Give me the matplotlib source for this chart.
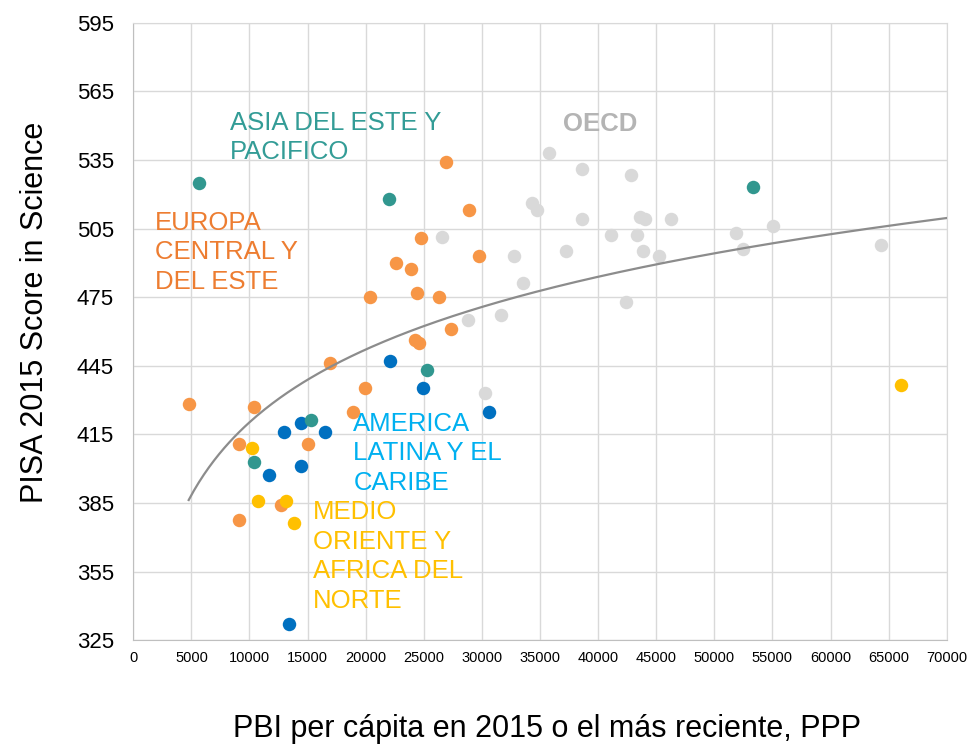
import matplotlib as mpl
import matplotlib.pyplot as plt
import numpy as np

mpl.rcParams["font.family"] = ["Liberation Sans", "DejaVu Sans"]

# GDP per capita (PPP) and PISA 2015 science score, by region
asia_x = [5654, 22005, 53372, 25275, 15318, 10387]
asia_y = [525.1, 517.9, 523.2, 443.2, 421.2, 402.9]

europa_x = [26885, 28890, 24785, 29725, 22580, 23873, 24440, 20396, 26334, 27341,
            24243, 24578, 16902, 19914, 4768, 10387, 18933, 9096, 15009, 12711, 9122]
europa_y = [534.0, 513.0, 501.0, 493.0, 490.1, 487.2, 477.0, 475.1, 475.1, 461.1,
            456.3, 454.8, 446.1, 435.2, 428.1, 427.0, 424.9, 411.0, 411.0, 384.0, 377.7]

latam_x = [22117, 24957, 30645, 14432, 12969, 16497, 14432, 11678, 13373]
latam_y = [447.1, 435.2, 424.8, 420.1, 416.0, 416.0, 401.2, 397.1, 332.0]

mena_x = [10241, 10731, 13115, 13804, 66059]
mena_y = [408.9, 386.0, 386.0, 376.1, 436.8]

oecd_x = [35755, 38577, 42825, 34299, 34745, 38607, 43598, 44044, 46302, 26604,
          41103, 43361, 51828, 55067, 64366, 32754, 37270, 43836, 45233, 52511,
          33527, 42410, 28773, 31625, 30229]
oecd_y = [538.2, 531.1, 528.3, 516.3, 513.2, 509.1, 510.2, 509.1, 509.1, 501.2,
          502.1, 502.1, 503.1, 506.2, 498.0, 493.1, 495.1, 495.1, 493.1, 496.1,
          481.1, 473.0, 465.2, 467.1, 433.0]

# logarithmic trend line y = a + b*ln(x)
TREND_A = -2.46
TREND_B = 45.9
TREND_X_MAX = 70000

x_ticks = list(range(0, 70001, 5000))
y_ticks = list(range(325, 596, 30))

X_LABEL = "PBI per cápita en 2015 o el más reciente, PPP"
Y_LABEL = "PISA 2015 Score in Science"

TEAL = "#31978F"
ORANGE = "#F79646"
BLUE = "#0070C0"
YELLOW = "#FFC000"
LIGHT_GRAY = "#D9D9D9"
MARKER_S = 94

fig = plt.figure(figsize=(9.68, 7.44), dpi=100)
ax = fig.add_axes([0.1377, 0.1395, 0.8403, 0.8299])

groups = [
    (oecd_x, oecd_y, LIGHT_GRAY),
    (europa_x, europa_y, ORANGE),
    (latam_x, latam_y, BLUE),
    (asia_x, asia_y, TEAL),
    (mena_x, mena_y, YELLOW),
]
for gx, gy, color in groups:
    ax.scatter(gx, gy, s=MARKER_S, color=color, linewidths=0, zorder=3)

all_x = np.concatenate([oecd_x, europa_x, latam_x, asia_x, mena_x])
tx = np.linspace(all_x.min(), TREND_X_MAX, 300)
ax.plot(tx, TREND_A + TREND_B * np.log(tx), color="#8C8C8C", linewidth=1.6, zorder=4)

# region labels
label_kw = dict(fontsize=18.5, va="top", ha="left", linespacing=1.3, zorder=5)
ax.text(8322, 556.6, "ASIA DEL ESTE Y\nPACIFICO", color="#339C96", **label_kw)
ax.text(36979, 556.1, "OECD", color="#B4B4B4", fontweight="bold", **label_kw)
ax.text(1867, 512.8, "EUROPA\nCENTRAL Y\nDEL ESTE", color="#ED7D31", **label_kw)
ax.text(18933, 425.0, "AMERICA\nLATINA Y EL\nCARIBE", color="#00B0F0", **label_kw)
ax.text(15491, 386.4, "MEDIO\nORIENTE Y\nAFRICA DEL\nNORTE", color=YELLOW, **label_kw)

ax.set_xlim(0, 70000)
ax.set_ylim(325, 595)
ax.set_xticks(x_ticks)
ax.set_yticks(y_ticks)
ax.tick_params(axis="both", length=0)
ax.tick_params(axis="x", labelsize=10.5, pad=8)
ax.tick_params(axis="y", labelsize=16, pad=14)
ax.grid(True, color=LIGHT_GRAY, linewidth=1)
ax.set_axisbelow(True)
for side in ["top", "right"]:
    ax.spines[side].set_color(LIGHT_GRAY)
for side in ["left", "bottom"]:
    ax.spines[side].set_color("#BFBFBF")

ax.set_xlabel(X_LABEL, fontsize=22)
ax.xaxis.set_label_coords(0.5086, -0.1563)
ax.xaxis.label.set_verticalalignment("baseline")
ax.set_ylabel(Y_LABEL, fontsize=22)
ax.yaxis.set_label_coords(-0.111, 0.5308)
ax.yaxis.label.set_verticalalignment("baseline")

plt.savefig("out.png", dpi=100)
